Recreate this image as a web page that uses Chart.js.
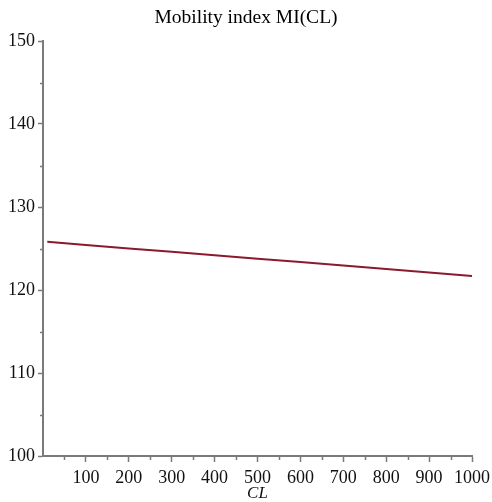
<!DOCTYPE html>
<html>
<head>
<meta charset="utf-8">
<script src="https://cdn.jsdelivr.net/npm/chart.js@4/dist/chart.umd.min.js"></script>
<style>
  html, body { margin: 0; padding: 0; background: #fff; }
  #wrap { width: 492px; height: 502px; }
</style>
</head>
<body>
<div id="wrap"><canvas id="c" width="492" height="502"></canvas></div>
<script>
// Mobility index as a function of CL
const clValues = [10, 100, 200, 300, 400, 500, 600, 700, 800, 900, 1000];
const miValues = [125.8, 125.43, 125.01, 124.6, 124.19, 123.77, 123.36, 122.94, 122.53, 122.11, 121.7];

const xMajorTicks = [100, 200, 300, 400, 500, 600, 700, 800, 900, 1000];
const xMinorTicks = [50, 150, 250, 350, 450, 550, 650, 750, 850, 950];
const yMajorTicks = [100, 110, 120, 130, 140, 150];
const yMinorTicks = [105, 115, 125, 135, 145];

const axisColor = '#7a7a7a';
const serif = "'Liberation Serif', 'DejaVu Serif', serif";

// short minor tick marks on both axes
const minorTicks = {
  id: 'minorTicks',
  afterDraw(chart) {
    const { ctx, chartArea, scales } = chart;
    ctx.save();
    ctx.strokeStyle = axisColor;
    ctx.lineWidth = 1.5;
    ctx.beginPath();
    xMinorTicks.forEach(v => {
      const px = Math.round(scales.x.getPixelForValue(v)) + 0.5;
      ctx.moveTo(px, chartArea.bottom);
      ctx.lineTo(px, chartArea.bottom + 4);
    });
    yMinorTicks.forEach(v => {
      const py = Math.round(scales.y.getPixelForValue(v)) + 0.5;
      ctx.moveTo(chartArea.left, py);
      ctx.lineTo(chartArea.left - 3, py);
    });
    ctx.stroke();
    ctx.restore();
  }
};

new Chart(document.getElementById('c'), {
  type: 'line',
  data: {
    datasets: [{
      data: clValues.map((x, i) => ({ x, y: miValues[i] })),
      borderColor: '#8a1a2e',
      borderWidth: 2,
      pointRadius: 0,
      tension: 0,
      fill: false
    }]
  },
  options: {
    responsive: false,
    animation: false,
    layout: { padding: 0 },
    plugins: {
      legend: { display: false },
      tooltip: { enabled: false },
      title: {
        display: true,
        text: 'Mobility index MI(CL)',
        color: '#000',
        font: { family: serif, size: 19.5, weight: 'normal', lineHeight: 1.2 },
        padding: { top: 6.3, bottom: 11.3 }
      }
    },
    scales: {
      x: {
        type: 'linear',
        min: 0,
        max: 1000,
        afterBuildTicks(scale) {
          scale.ticks = xMajorTicks.map(v => ({ value: v }));
        },
        afterFit(scale) {
          scale.height = 46;
          scale.paddingLeft = 0;
          scale.paddingRight = 20;
        },
        border: { display: true, color: axisColor, width: 2 },
        grid: {
          drawOnChartArea: false,
          drawTicks: true,
          tickLength: 6,
          tickColor: axisColor,
          tickWidth: 1.5
        },
        ticks: {
          color: '#111',
          font: { family: serif, size: 18 },
          padding: 5,
          maxRotation: 0,
          autoSkip: false,
          callback: v => String(v)
        },
        title: {
          display: true,
          text: 'CL',
          color: '#111',
          font: { family: serif, size: 17, style: 'italic', lineHeight: 1 },
          padding: { top: 0, bottom: 0 }
        }
      },
      y: {
        type: 'linear',
        min: 100,
        max: 150,
        afterBuildTicks(scale) {
          scale.ticks = yMajorTicks.map(v => ({ value: v }));
        },
        afterFit(scale) { scale.width = 43; },
        border: { display: true, color: axisColor, width: 2 },
        grid: {
          drawOnChartArea: false,
          drawTicks: true,
          tickLength: 5,
          tickColor: axisColor,
          tickWidth: 1.5
        },
        ticks: {
          color: '#111',
          font: { family: serif, size: 18 },
          padding: 3,
          autoSkip: false,
          callback: v => String(v)
        }
      }
    }
  },
  plugins: [minorTicks]
});
</script>
</body>
</html>
